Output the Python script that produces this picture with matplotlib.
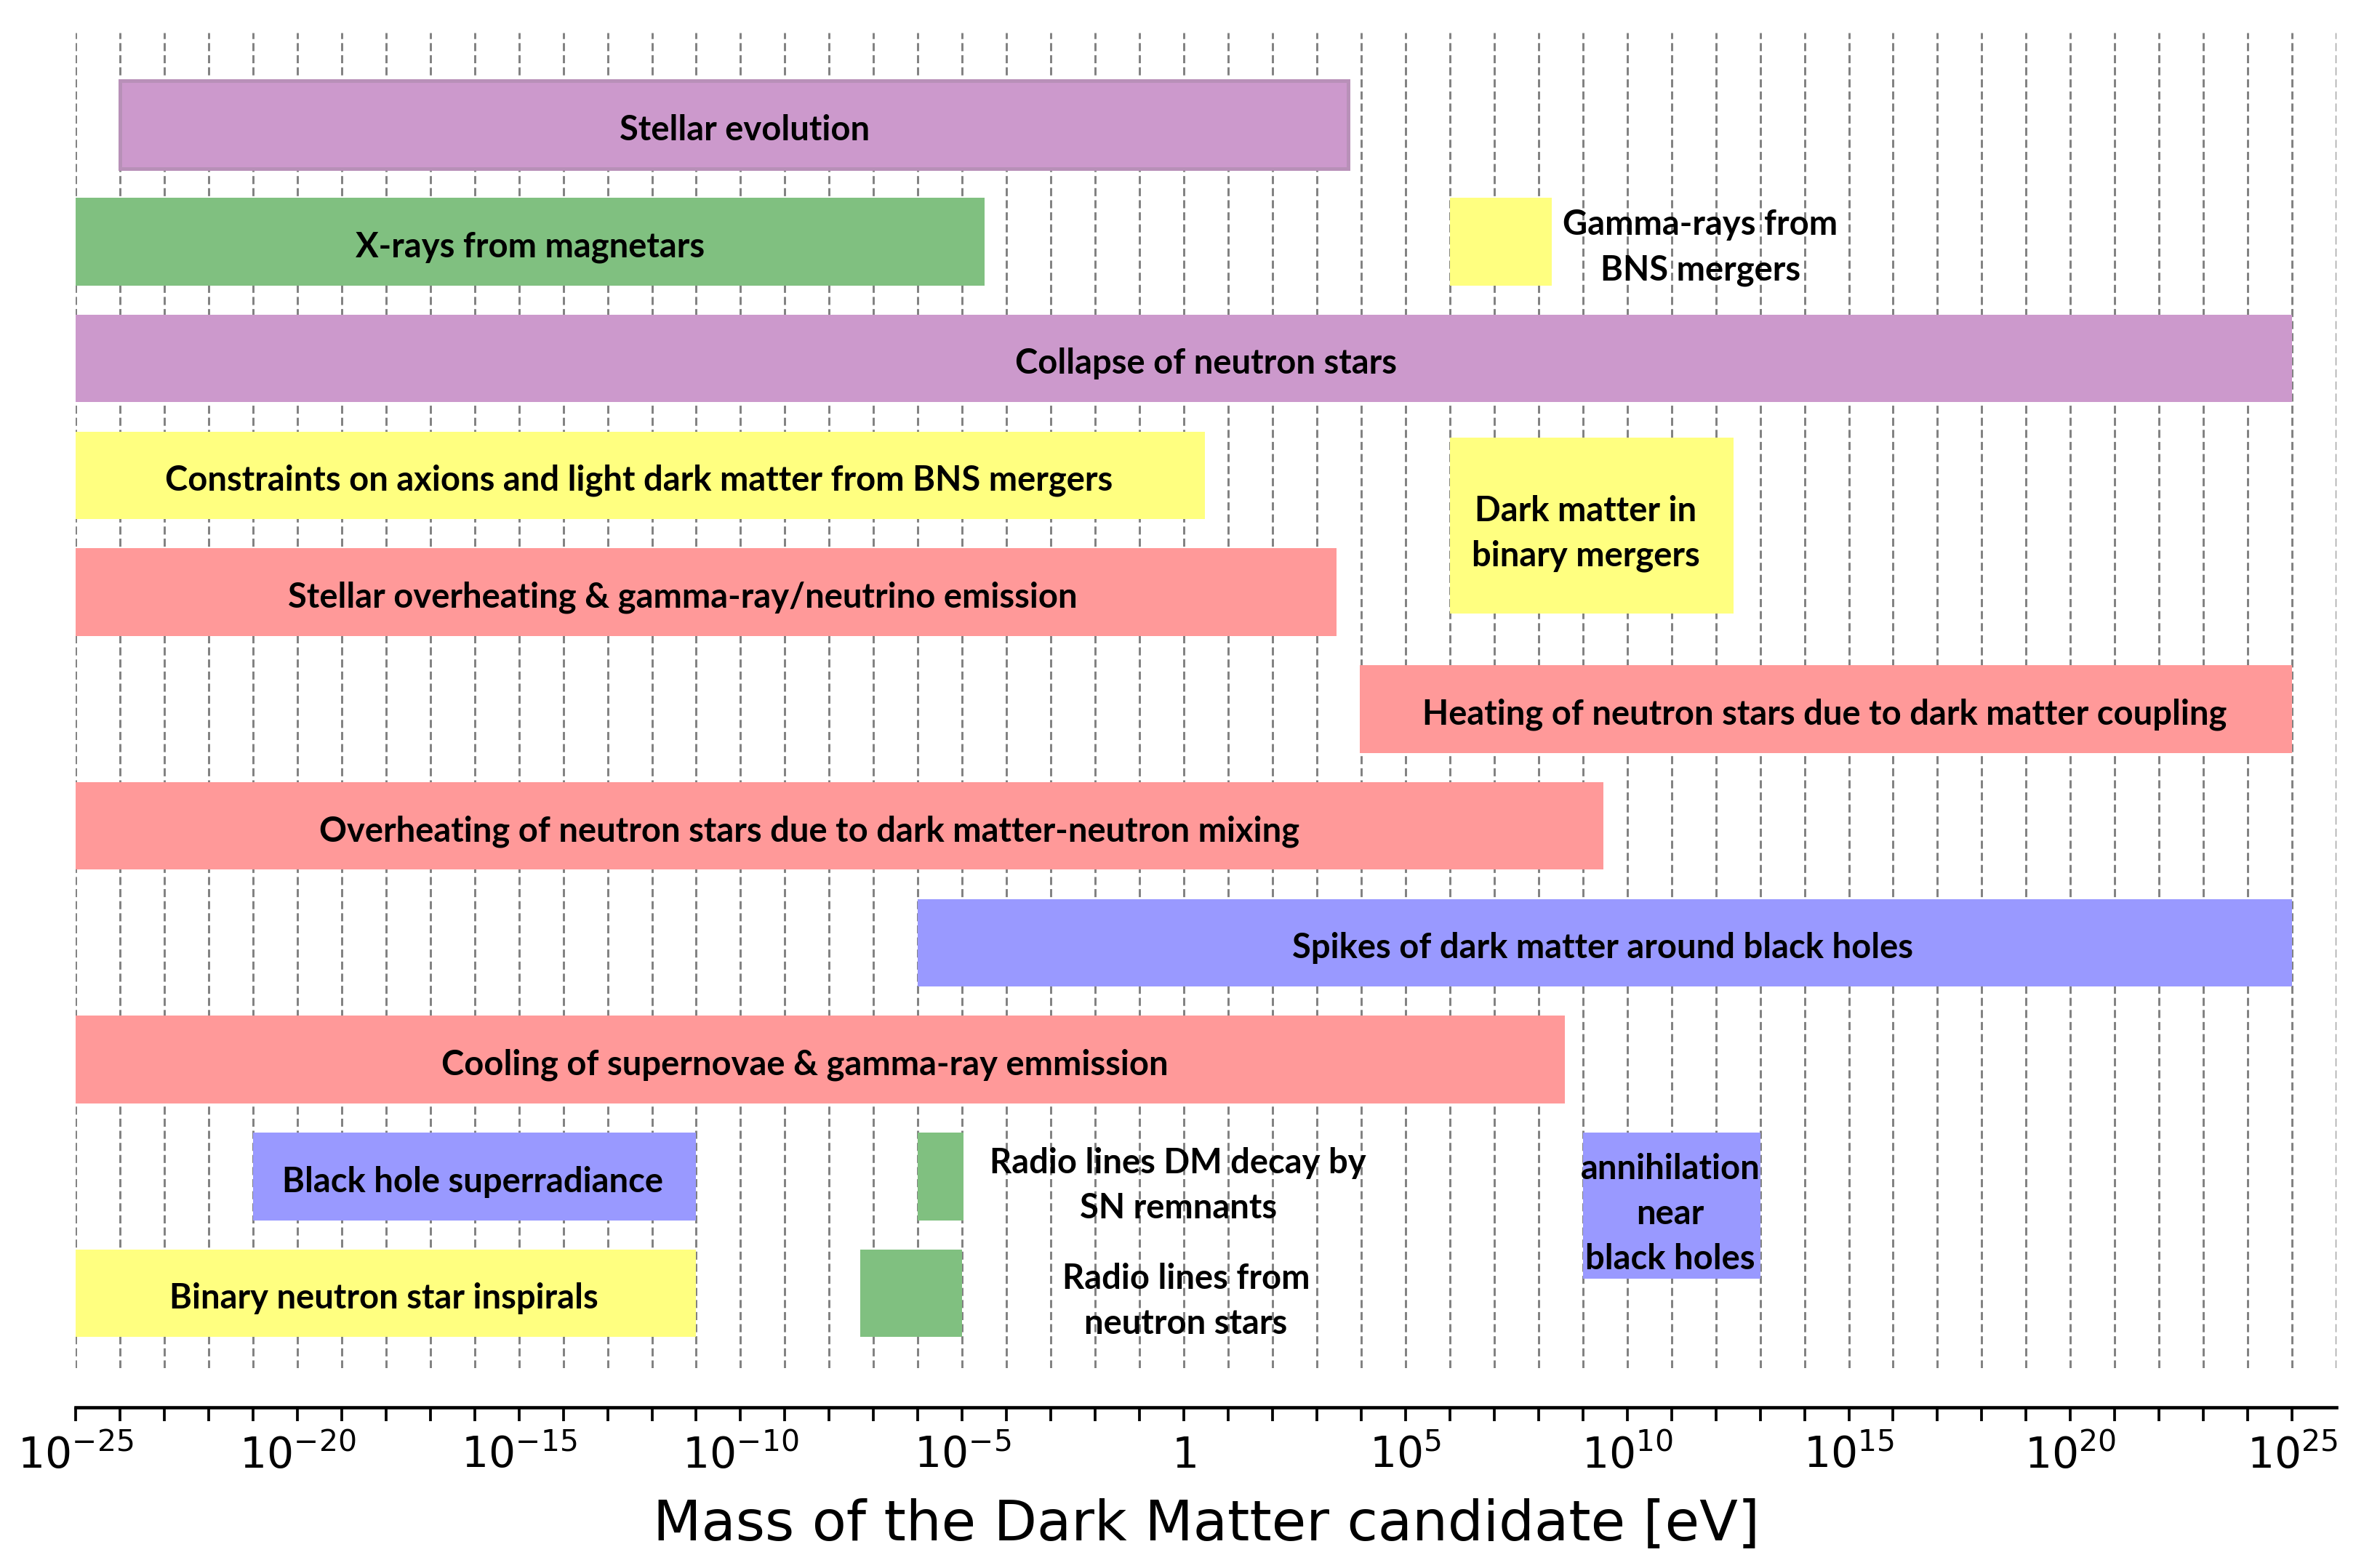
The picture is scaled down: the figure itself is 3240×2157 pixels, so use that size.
import numpy as np
import matplotlib
matplotlib.use("Agg")
import matplotlib.pyplot as plt
from matplotlib.ticker import FixedLocator, FuncFormatter

# bars: label, log10(start), log10(end), row, colour
labels = [
    "Stellar evolution",
    "X-rays from magnetars",
    "Collapse of neutron stars",
    "Constraints on axions and light dark matter from BNS mergers",
    "Stellar overheating & gamma-ray/neutrino emission",
    "Heating of neutron stars due to dark matter coupling",
    "Overheating of neutron stars due to dark matter-neutron mixing",
    "Spikes of dark matter around black holes",
    "Cooling of supernovae & gamma-ray emmission",
    "Black hole superradiance",
    "Binary neutron star inspirals",
]
lo = [-24, -25, -25, -25, -25, 3.97, -25, -6, -25, -21, -25]
hi = [3.7, -4.5, 25, 0.48, 3.45, 25, 9.47, 25, 8.6, -11, -11]
rows = [0, 1, 2, 3, 4, 5, 6, 7, 8, 9, 10]
colors = ["purple", "green", "purple", "yellow", "red", "red",
          "red", "blue", "red", "blue", "yellow"]
label_x = [-9.9, -14.75, 0.5, -12.3, -11.3, 14.45, -8.45, 9.45, -8.55, -16.05, -18.05]

# small boxes with the text beside them (or inside, for tall ones)
box_labels = ["Gamma-rays from\nBNS mergers",
              "Dark matter in\nbinary mergers",
              "Radio lines DM decay by\nSN remnants",
              "Radio lines from\nneutron stars",
              "annihilation\nnear\nblack holes"]
box_lo = [6, 6, -6, -7.3, 9]
box_hi = [8.3, 12.4, -4.97, -5, 13]
box_top = [0.625, 2.68, 8.625, 9.625, 8.625]
box_h = [0.75, 1.5, 0.75, 0.75, 1.25]
box_colors = ["yellow", "yellow", "green", "green", "blue"]
box_text_x = [11.65, 9.07, -0.13, 0.05, 10.97]
box_text_y = [1.05, 3.5, 9.08, 10.07, 9.32]

fill = {"purple": "#cc99cc", "green": "#80c080", "yellow": "#ffff80",
        "red": "#ff9999", "blue": "#9999ff"}

fig = plt.figure(figsize=(10.8, 7.19), dpi=300)
ax = fig.add_axes([0.0321, 0.1275, 0.9596, 0.8516])
ax.set_xscale("log")
ax.set_xlim(1e-25, 1e26)
ax.set_ylim(10.64, -0.787)

for k in range(-25, 27):
    ax.axvline(10.0 ** k, color="#808080", lw=0.7, ls=(0, (3.8, 1.9)), zorder=1)

bfont = dict(family="Lato", weight="bold", size=11.3)

for i in range(len(labels)):
    a, b = 10.0 ** lo[i], 10.0 ** hi[i]
    kw = {}
    if i == 0:
        kw = dict(edgecolor="#b890b8", linewidth=1.2)
    ax.barh(rows[i], b - a, left=a, height=0.75, color=fill[colors[i]],
            zorder=2, **kw)
    ax.text(10.0 ** label_x[i], rows[i] + 0.045, labels[i], ha="center",
            va="center", zorder=3, **bfont)

for i in range(len(box_labels)):
    a, b = 10.0 ** box_lo[i], 10.0 ** box_hi[i]
    ax.barh(box_top[i], b - a, left=a, height=box_h[i], align="edge",
            color=fill[box_colors[i]], zorder=2)
    ax.text(10.0 ** box_text_x[i], box_text_y[i], box_labels[i], ha="center",
            va="center", linespacing=1.5, zorder=3, **bfont)

for s in ["top", "left", "right"]:
    ax.spines[s].set_visible(False)
ax.spines["bottom"].set_position(("outward", 13))
ax.spines["bottom"].set_linewidth(1.1)
ax.set_yticks([])

decades = list(range(-25, 26))
ax.xaxis.set_major_locator(FixedLocator([10.0 ** k for k in decades]))
ax.xaxis.set_minor_locator(FixedLocator([]))


def fmt(v, pos):
    k = int(round(np.log10(v)))
    if k % 5:
        return ""
    if k == 0:
        return r"$\mathdefault{1}$"
    return r"$\mathdefault{10^{%d}}$" % k


ax.xaxis.set_major_formatter(FuncFormatter(fmt))
ax.tick_params(axis="x", length=4.5, width=0.9, labelsize=14, pad=4.5)
ax.set_xlabel("Mass of the Dark Matter candidate [eV]", fontsize=18.5, labelpad=7)

fig.savefig("out.png", dpi=300)
